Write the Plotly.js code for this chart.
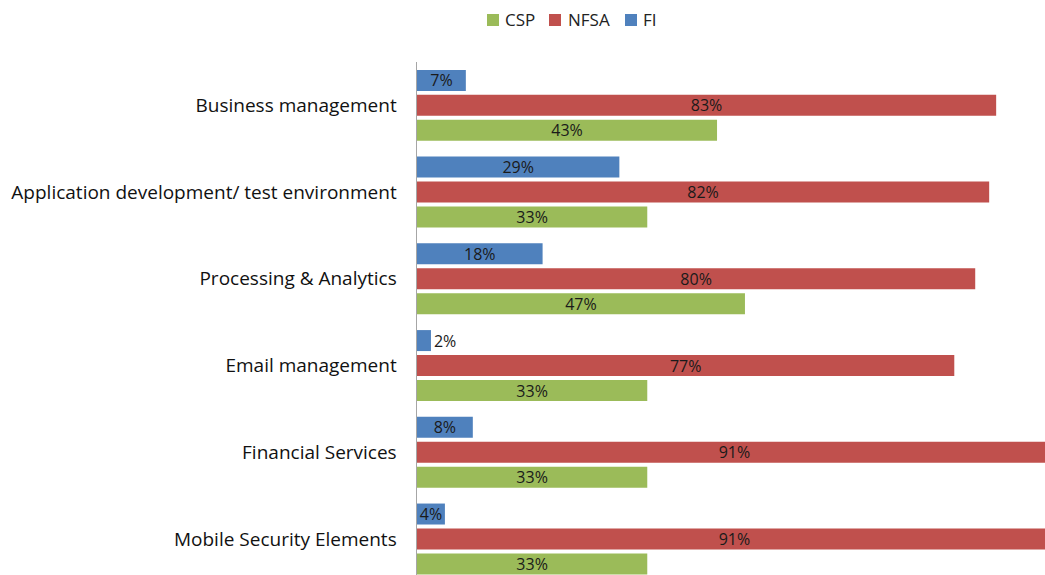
<!DOCTYPE html>
<html><head><meta charset="utf-8">
<script src="https://cdn.plot.ly/plotly-3.0.1.min.js"></script>
<style>html,body{margin:0;padding:0;background:#fff}#chart{width:1045px;height:575px}</style>
</head><body><div id="chart"></div>
<script>
const categories = ["Mobile Security Elements","Financial Services","Email management","Processing & Analytics","Application development/ test environment","Business management"];
const csp  = [33, 33, 33, 47, 33, 43];
const nfsa = [91, 91, 77, 80, 82, 83];
const fi   = [4, 8, 2, 18, 29, 7];
const seriesNames = ["CSP","NFSA","FI"];
const seriesColors = ["#9BBB59","#C0504D","#4F81BD"];

const W = 1045, H = 575, ML = 417, MT = 62;
const plotW = W - ML, plotH = H - MT;
const px2x = p => (p - ML) / plotW;
const px2y = p => 1 + (MT - p) / plotH;
const legendSwatchLeft = [487, 549, 625];
const legendTextLeft = [503, 566, 641];
const legendMid = 20;

const font = "'Open Sans', Lato, sans-serif";
const traces = [csp, nfsa, fi].map((vals, i) => ({
  type: 'bar', orientation: 'h',
  name: seriesNames[i],
  y: categories, x: vals,
  marker: {color: seriesColors[i], line: {width: 0}},
  texttemplate: '%{x}%',
  textposition: 'auto',
  constraintext: 'none',
  insidetextanchor: 'middle',
  textfont: {family: font, size: 16, color: '#1a1a1a'},
  insidetextfont: {family: font, size: 16, color: '#1a1a1a'},
  outsidetextfont: {family: font, size: 16, color: '#1a1a1a'},
  cliponaxis: true,
  hoverinfo: 'none'
}));

const shapes = seriesNames.map((n, i) => ({
  type: 'rect', xref: 'paper', yref: 'paper',
  x0: px2x(legendSwatchLeft[i]), x1: px2x(legendSwatchLeft[i] + 12),
  y0: px2y(legendMid + 6), y1: px2y(legendMid - 6),
  fillcolor: seriesColors[i], line: {width: 0}
}));
const annotations = seriesNames.map((n, i) => ({
  xref: 'paper', yref: 'paper', x: px2x(legendTextLeft[i]), y: px2y(legendMid),
  xanchor: 'left', yanchor: 'middle', showarrow: false, text: n,
  font: {family: font, size: 17, color: '#222'}
}));

const layout = {
  width: W, height: H,
  margin: {l: ML, r: 0, t: MT, b: 0},
  paper_bgcolor: '#fff', plot_bgcolor: '#fff',
  barmode: 'group', bargap: 0.136, bargroupgap: 0.16,
  showlegend: false,
  shapes: shapes, annotations: annotations,
  xaxis: {range: [0, 90], showgrid: false, zeroline: false, showticklabels: false, ticks: '', showline: false, fixedrange: true},
  yaxis: {type: 'category', range: [-0.415, 5.5], showgrid: false, zeroline: false, showline: true, linecolor: '#a6a6a6', linewidth: 1.5,
          ticks: '', ticklabelstandoff: 15, tickfont: {family: font, size: 19, color: '#111'}, fixedrange: true}
};
Plotly.newPlot('chart', traces, layout, {displayModeBar: false, staticPlot: true});
</script></body></html>
